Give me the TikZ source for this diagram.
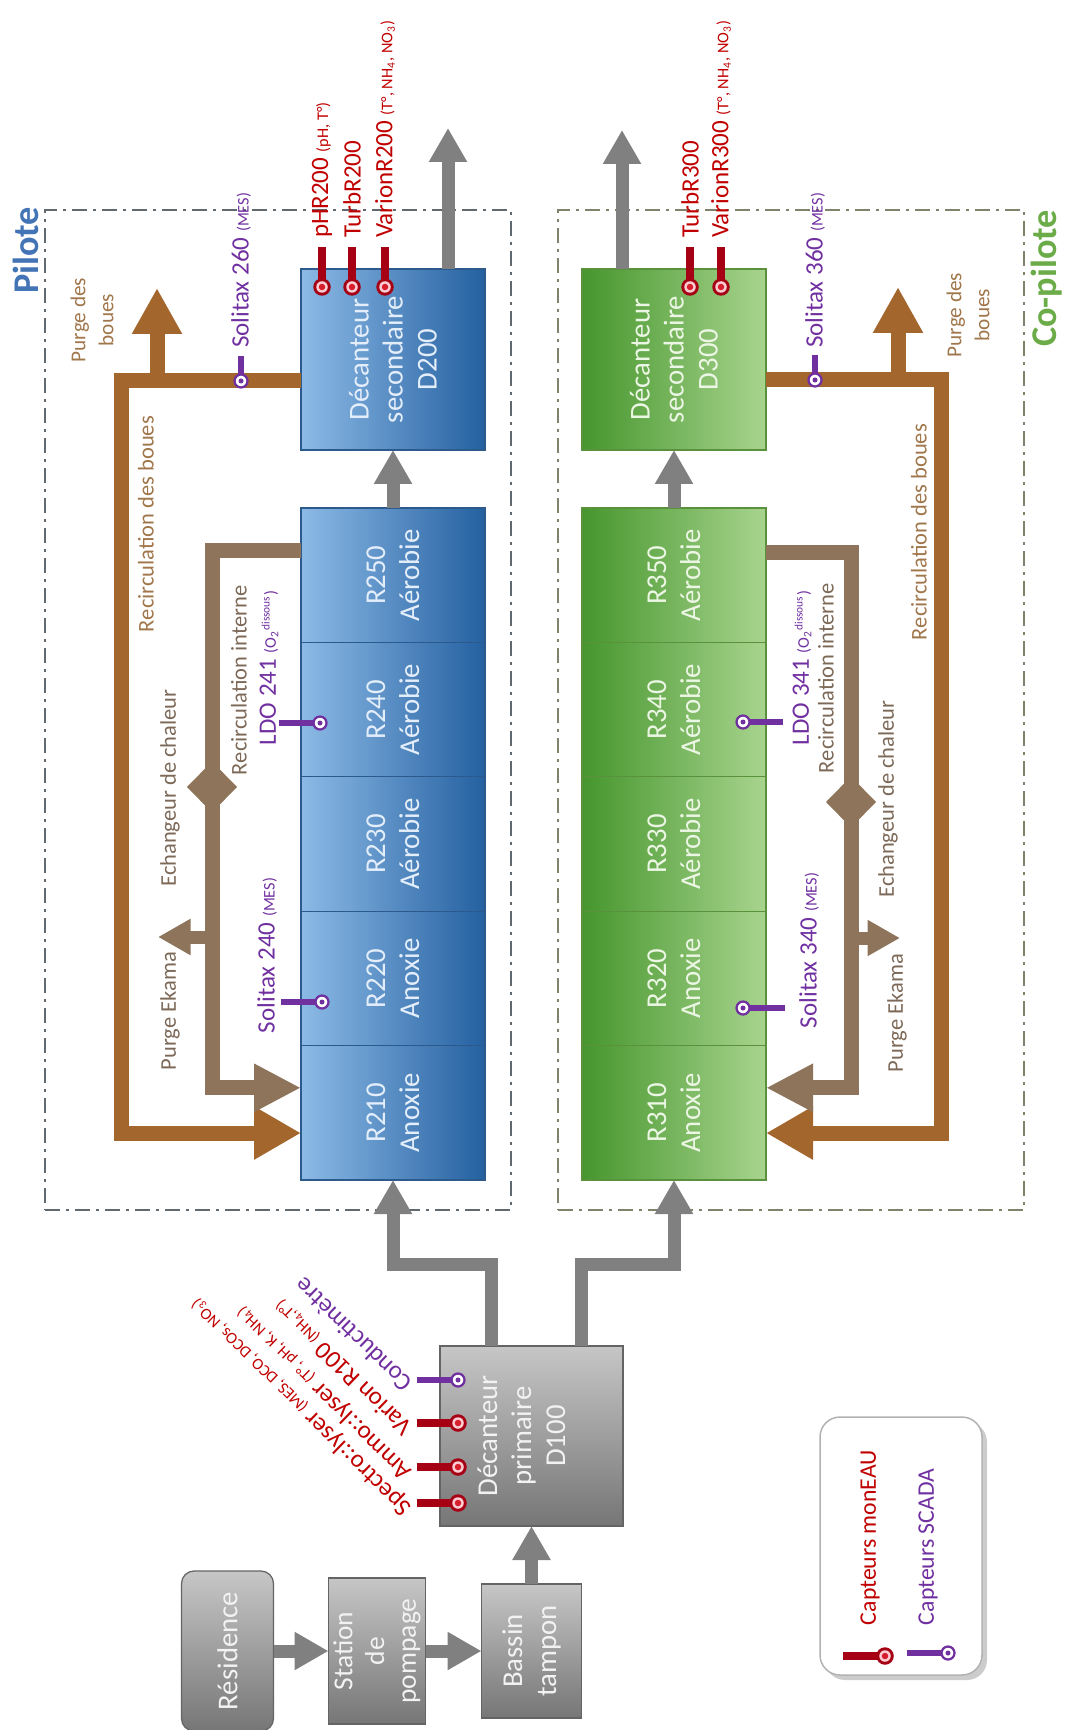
\documentclass[tikz,border=0pt]{standalone}
\usepackage{fontspec}
\setmainfont{Carlito}
\usepackage{tikz}
\usetikzlibrary{arrows.meta,positioning,shapes.geometric,shadows}

\definecolor{bleuclair}{RGB}{140,186,230}
\definecolor{bleufonce}{RGB}{36,96,160}
\definecolor{bleutrait}{RGB}{45,90,140}
\definecolor{blancbleu}{RGB}{228,238,250}
\definecolor{vertfonce}{RGB}{70,150,45}
\definecolor{vertclair}{RGB}{168,212,142}
\definecolor{verttrait}{RGB}{90,145,60}
\definecolor{blancvert}{RGB}{236,246,228}
\definecolor{grisclair}{RGB}{198,198,198}
\definecolor{grisfonce}{RGB}{118,118,118}
\definecolor{gristrait}{RGB}{100,100,100}
\definecolor{blancgris}{RGB}{242,242,242}
\definecolor{tuyau}{RGB}{128,128,128}
\definecolor{boue}{RGB}{163,102,45}
\definecolor{interne}{RGB}{142,116,90}
\definecolor{rouge}{RGB}{215,30,45}
\definecolor{rougefonce}{RGB}{165,0,20}
\definecolor{rose}{RGB}{252,205,210}
\definecolor{violetscada}{RGB}{112,48,160}
\definecolor{txtrouge}{RGB}{192,0,0}
\definecolor{txtboue}{RGB}{160,118,75}
\definecolor{txtint}{RGB}{125,105,88}
\definecolor{pilote}{RGB}{66,116,182}
\definecolor{copilote}{RGB}{108,172,72}
\definecolor{cadrepil}{RGB}{96,104,112}
\definecolor{cadrecop}{RGB}{128,130,108}

\newcommand{\petit}[1]{{\fontsize{6.5}{7}\selectfont #1}}
% capteur monEAU : rond en #1, tige selon le vecteur #2
\newcommand{\capteurR}[2]{%
  \draw[tigeR] (#1) -- ++(#2);
  \fill[rougefonce] (#1) circle[radius=3.5pt];
  \fill[rose] (#1) circle[radius=2.3pt];
  \fill[rouge] (#1) circle[radius=1.3pt];}
% capteur SCADA
\newcommand{\capteurV}[2]{%
  \draw[tigeV] (#1) -- ++(#2);
  \filldraw[draw=violetscada, fill=white, line width=0.9pt] (#1) circle[radius=2.6pt];
  \fill[violetscada] (#1) circle[radius=1pt];}

\begin{document}
\begin{tikzpicture}[
    x=0.4pt, y=-0.4pt,
    every node/.style={inner sep=0pt, outer sep=0pt},
    bleu/.style={draw=bleutrait, line width=0.5pt, left color=bleuclair, right color=bleufonce},
    vert/.style={draw=verttrait, line width=0.5pt, left color=vertfonce, right color=vertclair},
    gris/.style={draw=gristrait, line width=0.5pt, top color=grisclair, bottom color=grisfonce},
    reacteur/.style={minimum width=73.6pt, minimum height=53.76pt},
    decanteur/.style={minimum width=73.6pt, minimum height=72.4pt},
    boitetxt/.style={rotate=90, align=center, font=\fontsize{11.5}{13.6}\selectfont},
    cadre/.style={line width=0.6pt, dash pattern=on 6pt off 2.5pt on 1pt off 2.5pt, minimum width=186.4pt, minimum height=400pt},
    tuyaugris/.style={draw=tuyau, line width=5.2pt, line join=miter, -{Triangle[length=13.6pt, width=14.4pt]}},
    recirc/.style={draw=boue, line width=6pt, line join=miter, -{Triangle[length=18.8pt, width=20pt]}},
    recircint/.style={draw=interne, line width=6pt, line join=miter, -{Triangle[length=18.8pt, width=18pt]}},
    purge/.style={draw=boue, line width=6pt, -{Triangle[length=18.4pt, width=18.8pt]}},
    ekama/.style={draw=interne, line width=5.2pt, -{Triangle[length=13pt, width=13.6pt]}},
    echangeur/.style={diamond, fill=interne, minimum width=20pt, minimum height=20.4pt},
    capt/.style={rotate=90, anchor=west, font=\fontsize{10}{12}\selectfont},
    captD/.style={rotate=136, anchor=west, font=\fontsize{10}{12}\selectfont},
    lblboue/.style={rotate=90, text=txtboue, font=\fontsize{9}{11.2}\selectfont, align=center},
    lblint/.style={rotate=90, text=txtint, font=\fontsize{9}{11}\selectfont},
    titre/.style={rotate=90, anchor=east, font=\fontsize{14.5}{17}\selectfont\bfseries},
    tigeR/.style={draw=rougefonce, line width=3.2pt},
    tigeV/.style={draw=violetscada, line width=2.4pt}
]
\useasboundingbox (0,0) rectangle (1070,1730);

% cadres Pilote / Co-pilote
\node[cadre, draw=cadrepil] (zPil) at (278,710) {};
\node[cadre, draw=cadrecop] (zCop) at (791,710) {};
\node[titre, text=pilote] (tPil) at (26,207) {Pilote};
\node[titre, text=copilote] (tCop) at (1047,210) {Co-pilote};

% entree
\node[gris, minimum width=73.2pt, minimum height=72pt] (d100) at (531.5,1436) {};
\node[gris, minimum width=40pt, minimum height=53.6pt, below=23.2pt of d100] (bassin) {};
\node[gris, minimum width=38.8pt, minimum height=58.4pt, left=22.4pt of bassin] (station) {};
\node[gris, rounded corners=5pt, minimum width=36.8pt, minimum height=64pt, left=22pt of station] (res) {};
\node[boitetxt, text=blancgris] (d100t) at ([xshift=-4pt]d100.center) {Décanteur\\primaire\\D100};
\node[boitetxt, text=blancgris] (bassint) at (bassin) {Bassin\\tampon};
\node[boitetxt, text=blancgris, font=\fontsize{11}{12.7}\selectfont] (stationt) at (station) {Station\\de\\pompage};
\node[boitetxt, text=blancgris] (rest) at (res) {Résidence};

% Pilote
\node[bleu, reacteur] (r210) at (393,1112.8) {};
\node[bleu, reacteur, above=0pt of r210] (r220) {};
\node[bleu, reacteur, above=0pt of r220] (r230) {};
\node[bleu, reacteur, above=0pt of r230] (r240) {};
\node[bleu, reacteur, above=0pt of r240] (r250) {};
\node[bleu, decanteur, above=23.2pt of r250] (d200) {};
\node[boitetxt, text=blancbleu] (r210t) at (r210) {R210\\Anoxie};
\node[boitetxt, text=blancbleu] (r220t) at (r220) {R220\\Anoxie};
\node[boitetxt, text=blancbleu] (r230t) at (r230) {R230\\Aérobie};
\node[boitetxt, text=blancbleu] (r240t) at (r240) {R240\\Aérobie};
\node[boitetxt, text=blancbleu] (r250t) at (r250) {R250\\Aérobie};
\node[boitetxt, text=blancbleu] (d200t) at (d200) {Décanteur\\secondaire\\D200};

% Co-pilote
\node[vert, reacteur] (r310) at (674,1112.8) {};
\node[vert, reacteur, above=0pt of r310] (r320) {};
\node[vert, reacteur, above=0pt of r320] (r330) {};
\node[vert, reacteur, above=0pt of r330] (r340) {};
\node[vert, reacteur, above=0pt of r340] (r350) {};
\node[vert, decanteur, above=23.2pt of r350] (d300) {};
\node[boitetxt, text=blancvert] (r310t) at (r310) {R310\\Anoxie};
\node[boitetxt, text=blancvert] (r320t) at (r320) {R320\\Anoxie};
\node[boitetxt, text=blancvert] (r330t) at (r330) {R330\\Aérobie};
\node[boitetxt, text=blancvert] (r340t) at (r340) {R340\\Aérobie};
\node[boitetxt, text=blancvert] (r350t) at (r350) {R350\\Aérobie};
\node[boitetxt, text=blancvert] (d300t) at (d300) {Décanteur\\secondaire\\D300};

% conduites d'eau
\draw[tuyaugris] (res.east) -- (station.west);
\draw[tuyaugris] (station.east) -- (bassin.west);
\draw[tuyaugris] (bassin.north) -- (d100.south);
\draw[tuyaugris] ([xshift=-16.2pt]d100.north) -- ++(0,-82) -| (r210.south);
\draw[tuyaugris] ([xshift=20pt]d100.north) -- ++(0,-82) -| (r310.south);
\draw[tuyaugris] (r250.north) -- (d200.south);
\draw[tuyaugris] (r350.north) -- (d300.south);
\coordinate (sortie2) at (448,128);
\coordinate (sortie3) at (622,130);
\draw[tuyaugris] (d200.north -| sortie2) -- (sortie2);
\draw[tuyaugris] (d300.north -| sortie3) -- (sortie3);

% recirculation des boues
\coordinate (rb2) at ([yshift=-8.6pt]d200.west);
\draw[recirc] (rb2) -- ++(-180,0) |- ([yshift=-8.1pt]r210.west);
\coordinate (pb2) at (157,288);
\draw[purge] (rb2 -| pb2) -- (pb2);
\coordinate (rb3) at ([yshift=-8pt]d300.east);
\draw[recirc] (rb3) -- ++(175,0) |- ([yshift=-8.1pt]r310.east);
\coordinate (pb3) at (898,287);
\draw[purge] (rb3 -| pb3) -- (pb3);

% recirculation interne
\draw[recircint] ([yshift=10pt]r250.west) -- ++(-89,0) |- ([yshift=10pt]r210.west);
\node[echangeur] (ech2) at (212,787) {};
\coordinate (ek2) at (158,937);
\draw[ekama] (ek2 -| ech2) -- (ek2);
\draw[recircint] ([yshift=9.2pt]r350.east) -- ++(85,0) |- ([yshift=10pt]r310.east);
\node[echangeur] (ech3) at (851,802) {};
\coordinate (ek3) at (900,938);
\draw[ekama] (ek3 -| ech3) -- (ek3);

% capteurs
\capteurR{322,287}{0,-40}
\capteurR{352,287}{0,-40}
\capteurR{385,287}{0,-40}
\capteurR{690,287}{0,-40}
\capteurR{721,287}{0,-40}
\capteurV{241,381}{0,-25}
\capteurV{815,380}{0,-25}
\capteurV{320,723}{-41,0}
\capteurV{322,1002}{-41,0}
\capteurV{743,722}{40,0}
\capteurV{743,1008}{42,0}
\capteurV{458,1380}{-41,0}
\capteurR{458,1423}{-41,0}
\capteurR{458,1467}{-41,0}
\capteurR{458,1503}{-41,0}

\node[capt, text=txtrouge] (lpH2) at (322,238) {pHR200 \petit{(pH, T°)}};
\node[capt, text=txtrouge] (lTu2) at (352,238) {TurbR200};
\node[capt, text=txtrouge] (lVa2) at (385,238) {VarionR200 \petit{(T°, NH\textsubscript{4}, NO\textsubscript{3})}};
\node[capt, text=txtrouge] (lTu3) at (690,238) {TurbR300};
\node[capt, text=txtrouge] (lVa3) at (721,238) {VarionR300 \petit{(T°, NH\textsubscript{4}, NO\textsubscript{3})}};
\node[capt, text=violetscada] (lSo260) at (241,348) {Solitax 260 \petit{(MES)}};
\node[capt, text=violetscada] (lSo360) at (815,348) {Solitax 360 \petit{(MES)}};
\node[capt, text=violetscada] (lLdo241) at (269,745) {LDO 241 \petit{(O\textsubscript{2}\textsuperscript{dissous})}};
\node[capt, text=violetscada] (lLdo341) at (802,745) {LDO 341 \petit{(O\textsubscript{2}\textsuperscript{dissous})}};
\node[capt, text=violetscada] (lSo240) at (267,1033) {Solitax 240 \petit{(MES)}};
\node[capt, text=violetscada] (lSo340) at (809,1028) {Solitax 340 \petit{(MES)}};
\node[captD, text=violetscada] (lCond) at (408,1388) {Conductimètre};
\node[captD, text=txtrouge] (lVar1) at (408,1431) {Varion R100 \petit{(NH\textsubscript{4},T°)}};
\node[captD, text=txtrouge] (lAmmo) at (408,1475) {Ammo::lyser \petit{(T°, pH, K, NH\textsubscript{4})}};
\node[captD, text=txtrouge] (lSpec) at (408,1511) {Spectro::lyser \petit{(MES, DCO, DCOs, NO\textsubscript{3})}};

% libelles des boucles
\node[lblboue, font=\fontsize{8.5}{11.2}\selectfont] (lPb2) at (92,320) {Purge des\\boues};
\node[lblboue, anchor=west] (lRb2) at (146,632) {Recirculation des boues};
\node[lblint, anchor=west] (lRi2) at (239,775) {Recirculation interne};
\node[lblint] (lEch2) at (170,788) {Echangeur de chaleur};
\node[lblint, anchor=west] (lEk2) at (170,1070) {Purge Ekama};
\node[lblboue, font=\fontsize{8.5}{11.2}\selectfont] (lPb3) at (968,315) {Purge des\\boues};
\node[lblboue, anchor=west] (lRb3) at (919,640) {Recirculation des boues};
\node[lblint, anchor=west] (lRi3) at (826,773) {Recirculation interne};
\node[lblint] (lEch3) at (888,799) {Echangeur de chaleur};
\node[lblint, anchor=west] (lEk3) at (897,1072) {Purge Ekama};

% legende
\node[draw=gray!60, fill=white, rounded corners=8pt, line width=0.6pt, minimum width=64.8pt, minimum height=103.2pt,
      drop shadow={shadow xshift=2pt, shadow yshift=-2pt, opacity=0.4}] (legende) at (901,1546) {};
\capteurR{885,1656}{-42,0}
\capteurV{948,1653}{-41,0}
\node[capt, text=txtrouge, font=\fontsize{9.5}{11}\selectfont] (lgR) at (870,1625) {Capteurs monEAU};
\node[capt, text=violetscada, font=\fontsize{9.5}{11}\selectfont] (lgV) at (928,1625) {Capteurs SCADA};
\end{tikzpicture}
\end{document}
